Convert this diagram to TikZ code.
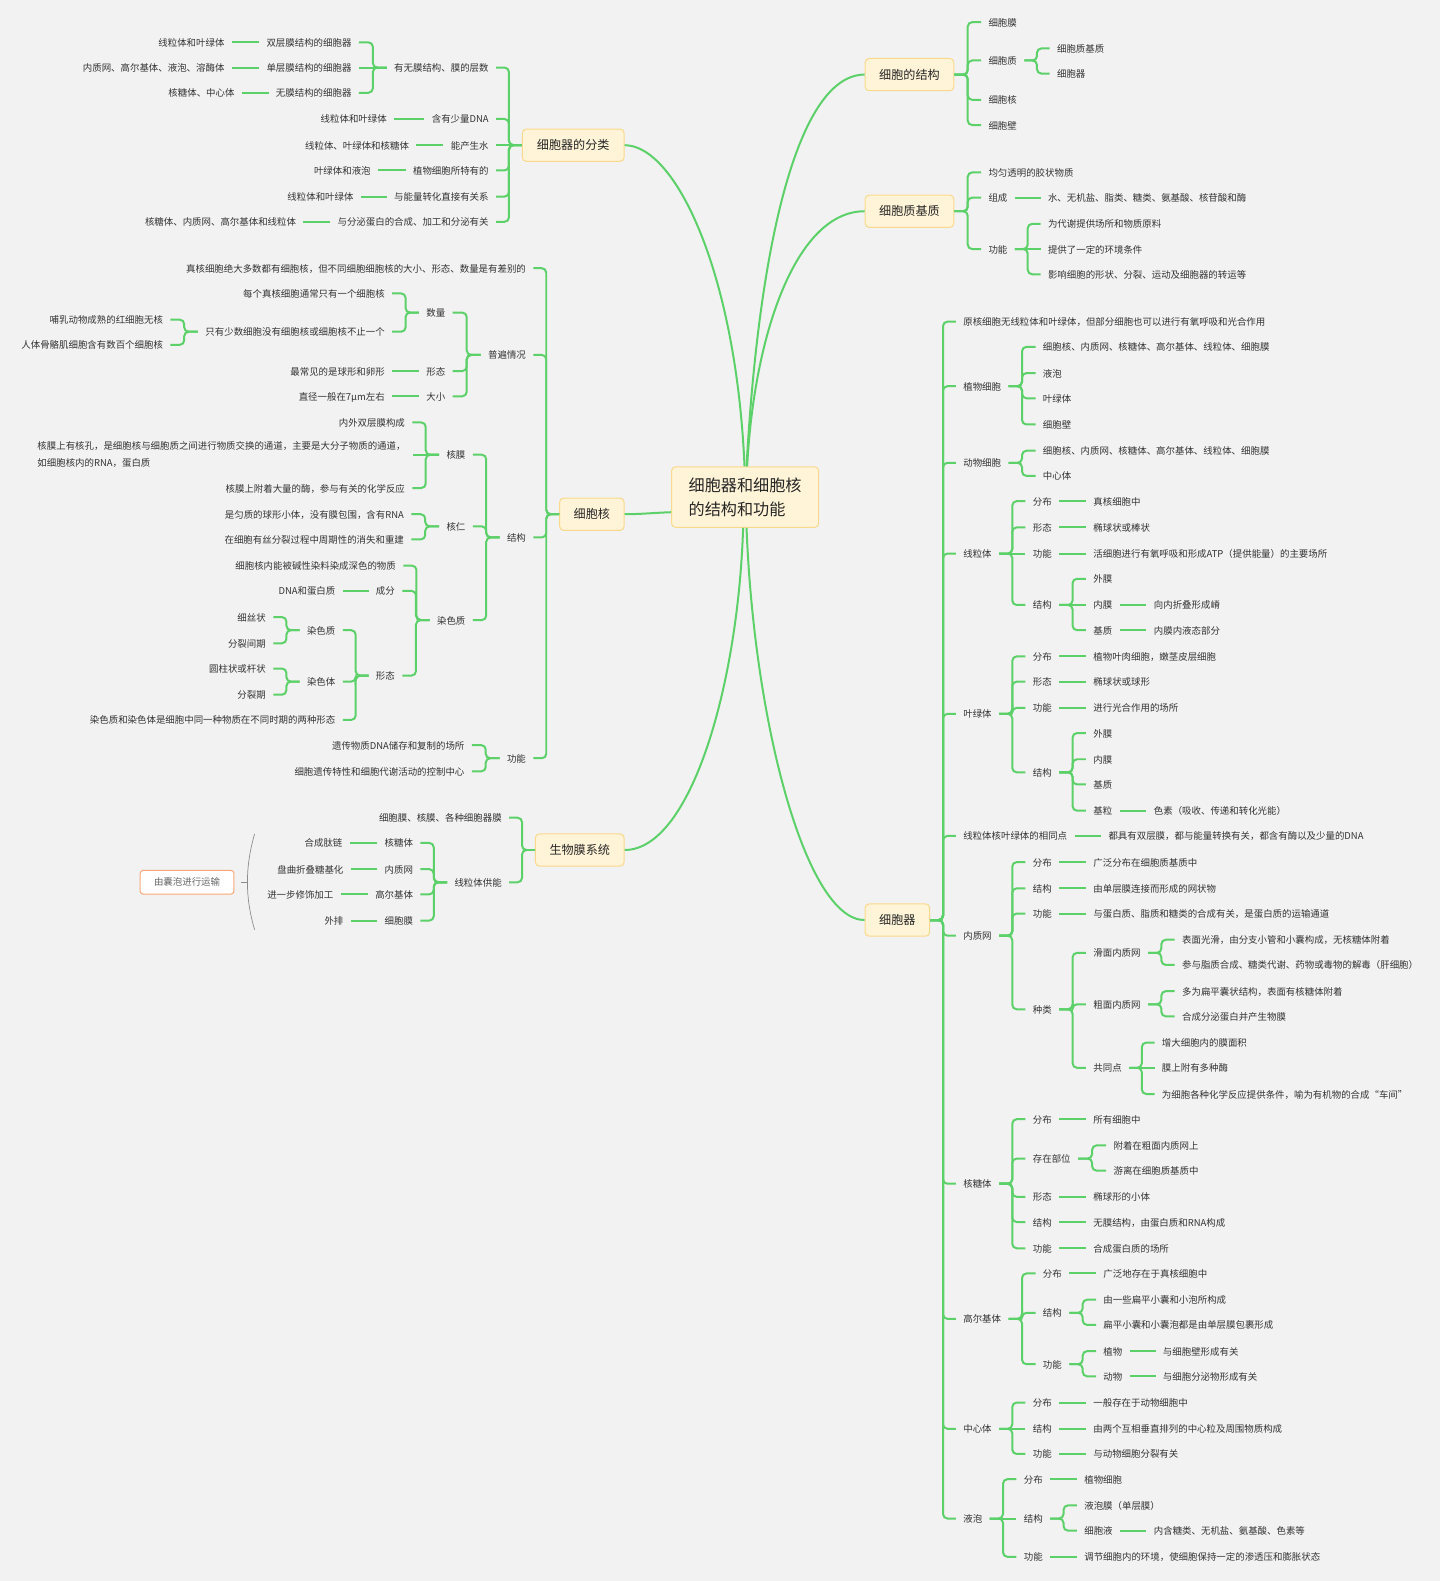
\documentclass[tikz,border=0pt]{standalone}
\usepackage{fontspec}
\setmainfont{Noto Sans CJK SC}
\usetikzlibrary{calc}
\definecolor{bgc}{HTML}{F2F2F2}
\definecolor{linkc}{HTML}{5CD069}
\definecolor{txtc}{HTML}{333333}
\definecolor{boxf}{HTML}{FFF4D7}
\definecolor{boxd}{HTML}{FBD98C}
\definecolor{orgd}{HTML}{F8A878}
\definecolor{grayl}{HTML}{8C8C8C}
\tikzset{
  leaf/.style={inner xsep=3.5pt,inner ysep=0pt,text=txtc,font=\fontsize{4.68pt}{8.5pt}\selectfont,text height=4.36pt,text depth=.4pt},
  multi/.style={inner xsep=3.5pt,inner ysep=0pt,text=txtc,font=\fontsize{4.68pt}{8.5pt}\selectfont,align=left},
  link/.style={draw=linkc,line width=.99pt,rounded corners=2.2pt},
  mainbox/.style={draw=boxd,fill=boxf,line width=.5pt,rounded corners=2pt,minimum height=16pt,inner sep=0pt,text=black!85,font=\fontsize{6pt}{8pt}\selectfont,text height=5.28pt,text depth=.72pt},
  rootbox/.style={draw=boxd,fill=boxf,line width=.5pt,rounded corners=2pt,minimum width=73pt,minimum height=30pt,inner sep=0pt,text=black!85,font=\fontsize{8pt}{12pt}\selectfont,align=left},
  curve/.style={draw=linkc,line width=.99pt},
  tagbox/.style={draw=orgd,fill=white,line width=.5pt,rounded corners=1.5pt,minimum width=46.5pt,minimum height=11.8pt,inner sep=0pt,text=black!60,font=\fontsize{4.68pt}{6pt}\selectfont,text height=4.12pt,text depth=.56pt},
  thin gray/.style={draw=grayl,line width=.35pt},
}
\newcommand\kidR[5]{\node[leaf,anchor=west] (#2) at (#3-7,#4) {#5};
  \coordinate (mm) at ($(#1.east)!.5!(#2.west)$);
  \draw[link] (#1.east) -| (mm |- #2.west) -- (#2.west);}
\newcommand\lineR[5]{\node[leaf,anchor=west] (#2) at (#3-7,#4) {#5};
  \draw[link] (#1.east) -- (#2.west);}
\newcommand\kidL[5]{\node[leaf,anchor=east] (#2) at (#3+7,#4) {#5};
  \coordinate (mm) at ($(#1.west)!.5!(#2.east)$);
  \draw[link] (#1.west) -| (mm |- #2.east) -- (#2.east);}
\newcommand\lineL[5]{\node[leaf,anchor=east] (#2) at (#3+7,#4) {#5};
  \draw[link] (#1.west) -- (#2.east);}
\begin{document}
\begin{tikzpicture}[x=.5pt,y=-.5pt]
\useasboundingbox (0,0) rectangle (1428,1568);
\fill[bgc] (0,0) rectangle (1428,1568);

\node[rootbox] (root) at (739,493) {细胞器和细胞核\\的结构和功能};
\node[mainbox,minimum width=44pt] (mA) at (902,74) {细胞的结构};
\node[mainbox,minimum width=44pt] (mB) at (902,209.5) {细胞质基质};
\node[mainbox,minimum width=32pt] (mC) at (890,912.5) {细胞器};
\node[mainbox,minimum width=50.5pt] (mD) at (568.5,144) {细胞器的分类};
\node[mainbox,minimum width=32pt] (mE) at (587,510) {细胞核};
\node[mainbox,minimum width=44pt] (mF) at (575,843) {生物膜系统};

\draw[curve] ([xshift=.7pt]root.north) .. controls (752,250) and (790,74) .. (mA.west);
\draw[curve] ([xshift=1pt]root.north) .. controls (748,330) and (790,209.5) .. (mB.west);
\draw[curve] ([xshift=.7pt]root.south) .. controls (748,720) and (800,912.5) .. (mC.west);
\draw[curve] ([xshift=-.3pt]root.north) .. controls (730,270) and (670,144) .. (mD.east);
\draw[curve] ([yshift=-7.5pt]root.west) .. controls (650,508.5) and (635,510) .. (mE.east);
\draw[curve] ([xshift=-1pt]root.south) .. controls (732,680) and (685,843) .. (mF.east);

% 细胞的结构
\kidR{mA}{a1}{980}{22}{细胞膜}
\kidR{mA}{a2}{980}{60}{细胞质}
\kidR{a2}{a21}{1048}{48}{细胞质基质}
\kidR{a2}{a22}{1048}{73}{细胞器}
\kidR{mA}{a3}{980}{99}{细胞核}
\kidR{mA}{a4}{980}{124}{细胞壁}

% 细胞质基质
\kidR{mB}{b1}{980}{171}{均匀透明的胶状物质}
\kidR{mB}{b2}{980}{196}{组成}
\lineR{b2}{b21}{1039}{196}{水、无机盐、脂类、糖类、氨基酸、核苷酸和酶}
\kidR{mB}{b3}{980}{247}{功能}
\kidR{b3}{b31}{1039}{222}{为代谢提供场所和物质原料}
\lineR{b3}{b32}{1039}{247}{提供了一定的环境条件}
\kidR{b3}{b33}{1039}{272}{影响细胞的形状、分裂、运动及细胞器的转运等}

% 细胞器
\kidR{mC}{c1}{955}{319}{原核细胞无线粒体和叶绿体，但部分细胞也可以进行有氧呼吸和光合作用}
\kidR{mC}{c2}{955}{383}{植物细胞}
\kidR{c2}{c21}{1034}{344}{细胞核、内质网、核糖体、高尔基体、线粒体、细胞膜}
\kidR{c2}{c22}{1034}{370}{液泡}
\kidR{c2}{c23}{1034}{395}{叶绿体}
\kidR{c2}{c24}{1034}{421}{细胞壁}
\kidR{mC}{c3}{955}{459}{动物细胞}
\kidR{c3}{c31}{1034}{447}{细胞核、内质网、核糖体、高尔基体、线粒体、细胞膜}
\kidR{c3}{c32}{1034}{472}{中心体}
\kidR{mC}{c4}{955}{549}{线粒体}
\kidR{c4}{c41}{1024}{497}{分布}
\lineR{c41}{c411}{1084}{497}{真核细胞中}
\kidR{c4}{c42}{1024}{523}{形态}
\lineR{c42}{c421}{1084}{523}{椭球状或棒状}
\lineR{c4}{c43}{1024}{549}{功能}
\lineR{c43}{c431}{1084}{549}{活细胞进行有氧呼吸和形成ATP（提供能量）的主要场所}
\kidR{c4}{c44}{1024}{600}{结构}
\kidR{c44}{c441}{1084}{574}{外膜}
\lineR{c44}{c442}{1084}{600}{内膜}
\lineR{c442}{c4421}{1144}{600}{向内折叠形成嵴}
\kidR{c44}{c443}{1084}{625}{基质}
\lineR{c443}{c4431}{1144}{625}{内膜内液态部分}
\kidR{mC}{c5}{955}{708}{叶绿体}
\kidR{c5}{c51}{1024}{651}{分布}
\lineR{c51}{c511}{1084}{651}{植物叶肉细胞，嫩茎皮层细胞}
\kidR{c5}{c52}{1024}{676}{形态}
\lineR{c52}{c521}{1084}{676}{椭球状或球形}
\kidR{c5}{c53}{1024}{702}{功能}
\lineR{c53}{c531}{1084}{702}{进行光合作用的场所}
\kidR{c5}{c54}{1024}{766}{结构}
\kidR{c54}{c541}{1084}{727}{外膜}
\kidR{c54}{c542}{1084}{753}{内膜}
\kidR{c54}{c543}{1084}{778}{基质}
\kidR{c54}{c544}{1084}{804}{基粒}
\lineR{c544}{c5441}{1144}{804}{色素（吸收、传递和转化光能）}
\kidR{mC}{c6}{955}{829}{线粒体核叶绿体的相同点}
\lineR{c6}{c61}{1099}{829}{都具有双层膜，都与能量转换有关，都含有酶以及少量的DNA}
\kidR{mC}{c7}{955}{928}{内质网}
\kidR{c7}{c71}{1024}{855}{分布}
\lineR{c71}{c711}{1084}{855}{广泛分布在细胞质基质中}
\kidR{c7}{c72}{1024}{881}{结构}
\lineR{c72}{c721}{1084}{881}{由单层膜连接而形成的网状物}
\kidR{c7}{c73}{1024}{906}{功能}
\lineR{c73}{c731}{1084}{906}{与蛋白质、脂质和糖类的合成有关，是蛋白质的运输通道}
\kidR{c7}{c74}{1024}{1001}{种类}
\kidR{c74}{c741}{1084}{945}{滑面内质网}
\kidR{c741}{c7411}{1172}{932}{表面光滑，由分支小管和小囊构成，无核糖体附着}
\kidR{c741}{c7412}{1172}{957}{参与脂质合成、糖类代谢、药物或毒物的解毒（肝细胞）}
\kidR{c74}{c742}{1084}{996}{粗面内质网}
\kidR{c742}{c7421}{1172}{983}{多为扁平囊状结构，表面有核糖体附着}
\kidR{c742}{c7422}{1172}{1008}{合成分泌蛋白并产生物膜}
\kidR{c74}{c743}{1084}{1059}{共同点}
\kidR{c743}{c7431}{1152}{1034}{增大细胞内的膜面积}
\lineR{c743}{c7432}{1152}{1059}{膜上附有多种酶}
\kidR{c743}{c7433}{1152}{1085}{为细胞各种化学反应提供条件，喻为有机物的合成“车间”}
\kidR{mC}{c8}{955}{1174}{核糖体}
\kidR{c8}{c81}{1024}{1110}{分布}
\lineR{c81}{c811}{1084}{1110}{所有细胞中}
\kidR{c8}{c82}{1024}{1149}{存在部位}
\kidR{c82}{c821}{1104}{1136}{附着在粗面内质网上}
\kidR{c82}{c822}{1104}{1161}{游离在细胞质基质中}
\kidR{c8}{c83}{1024}{1187}{形态}
\lineR{c83}{c831}{1084}{1187}{椭球形的小体}
\kidR{c8}{c84}{1024}{1212}{结构}
\lineR{c84}{c841}{1084}{1212}{无膜结构，由蛋白质和RNA构成}
\kidR{c8}{c85}{1024}{1238}{功能}
\lineR{c85}{c851}{1084}{1238}{合成蛋白质的场所}
\kidR{mC}{c9}{955}{1308}{高尔基体}
\kidR{c9}{c91}{1034}{1263}{分布}
\lineR{c91}{c911}{1094}{1263}{广泛地存在于真核细胞中}
\kidR{c9}{c92}{1034}{1302}{结构}
\kidR{c92}{c921}{1094}{1289}{由一些扁平小囊和小泡所构成}
\kidR{c92}{c922}{1094}{1314}{扁平小囊和小囊泡都是由单层膜包裹形成}
\kidR{c9}{c93}{1034}{1353}{功能}
\kidR{c93}{c931}{1094}{1340}{植物}
\lineR{c931}{c9311}{1153}{1340}{与细胞壁形成有关}
\kidR{c93}{c932}{1094}{1365}{动物}
\lineR{c932}{c9321}{1153}{1365}{与细胞分泌物形成有关}
\kidR{mC}{c10}{955}{1417}{中心体}
\kidR{c10}{c101}{1024}{1391}{分布}
\lineR{c101}{c1011}{1084}{1391}{一般存在于动物细胞中}
\lineR{c10}{c102}{1024}{1417}{结构}
\lineR{c102}{c1021}{1084}{1417}{由两个互相垂直排列的中心粒及周围物质构成}
\kidR{c10}{c103}{1024}{1442}{功能}
\lineR{c103}{c1031}{1084}{1442}{与动物细胞分裂有关}
\kidR{mC}{c11}{955}{1506}{液泡}
\kidR{c11}{c111}{1015}{1467}{分布}
\lineR{c111}{c1111}{1075}{1467}{植物细胞}
\lineR{c11}{c112}{1015}{1506}{结构}
\kidR{c112}{c1121}{1075}{1493}{液泡膜（单层膜）}
\kidR{c112}{c1122}{1075}{1518}{细胞液}
\lineR{c1122}{c11221}{1144}{1518}{内含糖类、无机盐、氨基酸、色素等}
\kidR{c11}{c113}{1015}{1544}{功能}
\lineR{c113}{c1131}{1075}{1544}{调节细胞内的环境，使细胞保持一定的渗透压和膨胀状态}

% 细胞器的分类
\kidL{mD}{d1}{485}{67}{有无膜结构、膜的层数}
\kidL{d1}{d11}{349}{42}{双层膜结构的细胞器}
\lineL{d11}{d111}{223}{42}{线粒体和叶绿体}
\lineL{d1}{d12}{349}{67}{单层膜结构的细胞器}
\lineL{d12}{d121}{223}{67}{内质网、高尔基体、液泡、溶酶体}
\kidL{d1}{d13}{349}{92}{无膜结构的细胞器}
\lineL{d13}{d131}{233}{92}{核糖体、中心体}
\kidL{mD}{d2}{485}{118}{含有少量DNA}
\lineL{d2}{d21}{384}{118}{线粒体和叶绿体}
\lineL{mD}{d3}{485}{144}{能产生水}
\lineL{d3}{d31}{406}{144}{线粒体、叶绿体和核糖体}
\kidL{mD}{d4}{485}{169}{植物细胞所特有的}
\lineL{d4}{d41}{368}{169}{叶绿体和液泡}
\kidL{mD}{d5}{485}{195}{与能量转化直接有关系}
\lineL{d5}{d51}{351}{195}{线粒体和叶绿体}
\kidL{mD}{d6}{485}{220}{与分泌蛋白的合成、加工和分泌有关}
\lineL{d6}{d61}{294}{220}{核糖体、内质网、高尔基体和线粒体}

% 细胞核
\kidL{mE}{e1}{522}{266}{真核细胞绝大多数都有细胞核，但不同细胞细胞核的大小、形态、数量是有差别的}
\kidL{mE}{e2}{522}{352}{普遍情况}
\kidL{e2}{e21}{442}{310}{数量}
\kidL{e21}{e211}{382}{291}{每个真核细胞通常只有一个细胞核}
\kidL{e21}{e212}{382}{329}{只有少数细胞没有细胞核或细胞核不止一个}
\kidL{e212}{e2121}{162}{317}{哺乳动物成熟的红细胞无核}
\kidL{e212}{e2122}{162}{342}{人体骨骼肌细胞含有数百个细胞核}
\kidL{e2}{e22}{442}{368}{形态}
\lineL{e22}{e221}{382}{368}{最常见的是球形和卵形}
\kidL{e2}{e23}{442}{393}{大小}
\lineL{e23}{e231}{382}{393}{直径一般在7μm左右}
\kidL{mE}{e3}{522}{533}{结构}
\kidL{e3}{e31}{462}{451}{核膜}
\kidL{e31}{e311}{402}{419}{内外双层膜构成}
\node[multi,anchor=east] (e312) at (409.6,451) {核膜上有核孔，是细胞核与细胞质之间进行物质交换的通道，主要是大分子物质的通道，\\如细胞核内的RNA，蛋白质};
\draw[link] (e31.west) -- (e312.east |- e31.west);
\kidL{e31}{e313}{402}{484}{核膜上附着大量的酶，参与有关的化学反应}
\kidL{e3}{e32}{462}{522}{核仁}
\kidL{e32}{e321}{401}{510}{是匀质的球形小体，没有膜包围，含有RNA}
\kidL{e32}{e322}{401}{535}{在细胞有丝分裂过程中周期性的消失和重建}
\kidL{e3}{e33}{462}{615}{染色质}
\kidL{e33}{e331}{393}{561}{细胞核内能被碱性染料染成深色的物质}
\kidL{e33}{e332}{392}{586}{成分}
\lineL{e332}{e3321}{333}{586}{DNA和蛋白质}
\kidL{e33}{e333}{392}{670}{形态}
\kidL{e333}{e3331}{333}{625}{染色质}
\kidL{e3331}{e33311}{264}{612}{细丝状}
\kidL{e3331}{e33312}{264}{638}{分裂间期}
\kidL{e333}{e3332}{333}{676}{染色体}
\kidL{e3332}{e33321}{264}{663}{圆柱状或杆状}
\kidL{e3332}{e33322}{264}{689}{分裂期}
\kidL{e333}{e3333}{333}{714}{染色质和染色体是细胞中同一种物质在不同时期的两种形态}
\kidL{mE}{e4}{522}{752}{功能}
\kidL{e4}{e41}{461}{739}{遗传物质DNA储存和复制的场所}
\kidL{e4}{e42}{461}{765}{细胞遗传特性和细胞代谢活动的控制中心}

% 生物膜系统
\kidL{mF}{f1}{498}{811}{细胞膜、核膜、各种细胞器膜}
\kidL{mF}{f2}{498}{875}{线粒体供能}
\kidL{f2}{f21}{410}{836}{核糖体}
\lineL{f21}{f211}{340}{836}{合成肽链}
\kidL{f2}{f22}{410}{862}{内质网}
\lineL{f22}{f221}{341}{862}{盘曲折叠糖基化}
\kidL{f2}{f23}{410}{887}{高尔基体}
\lineL{f23}{f231}{331}{887}{进一步修饰加工}
\kidL{f2}{f24}{410}{913}{细胞膜}
\lineL{f24}{f241}{341}{913}{外排}

% summary
\node[tagbox] (tag) at (185.5,875) {由囊泡进行运输};
\coordinate (bt) at (252.5,827);
\coordinate (bm) at (245.6,875);
\coordinate (bb) at (252.5,922);
\draw[thin gray] (bt) .. controls (243,860) and (243,890) .. (bb);
\draw[thin gray] ([xshift=3.5pt]tag.east) -- (bm);
\end{tikzpicture}
\end{document}
